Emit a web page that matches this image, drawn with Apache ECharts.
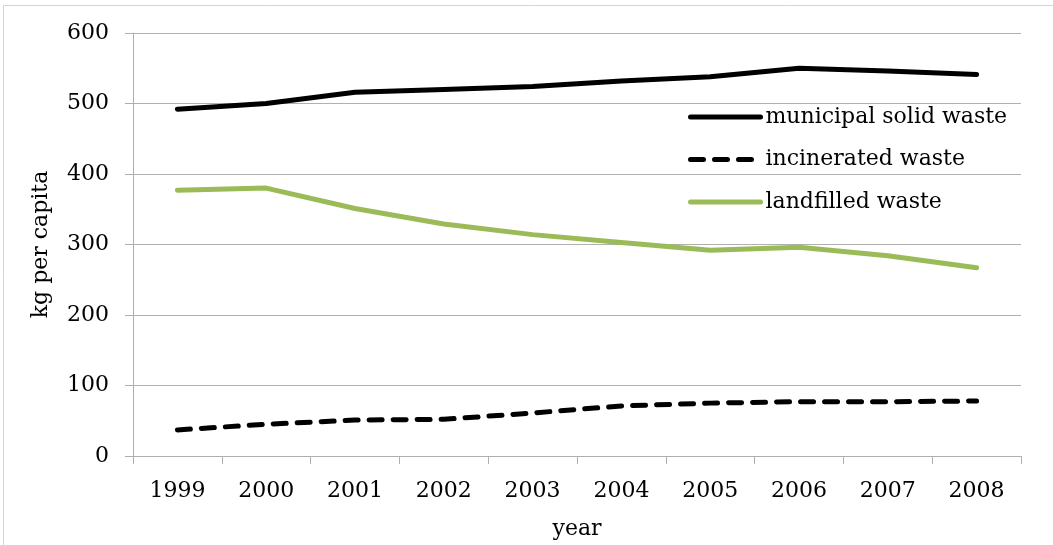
<!DOCTYPE html>
<html>
<head>
<meta charset="utf-8">
<script src="https://cdn.jsdelivr.net/npm/echarts@6/dist/echarts.min.js"></script>
<style>
  html, body { margin: 0; padding: 0; background: #fff; }
  #chart { width: 1053px; height: 545px; }
</style>
</head>
<body>
<div id="chart"></div>
<script>
// Waste per capita, 1999–2008 (kg per capita)
const years = ['1999', '2000', '2001', '2002', '2003', '2004', '2005', '2006', '2007', '2008'];
const municipalSolidWaste = [492, 500, 516, 520, 524, 532, 538, 550, 546, 541];
const incineratedWaste = [37, 45, 51, 52, 61, 71, 75, 77, 77, 78];
const landfilledWaste = [377, 380, 351, 329, 314, 303, 292, 296, 284, 267];

const FONT = 'DejaVu Serif';
const FONT_SIZE = 22;
const GRID_COLOR = '#b0b0b0';

const chart = echarts.init(document.getElementById('chart'), null, { renderer: 'canvas' });

chart.setOption({
  animation: false,
  backgroundColor: '#fff',
  textStyle: { fontFamily: FONT, color: '#000' },
  graphic: [
    // outer chart frame edges
    { type: 'line', shape: { x1: 3.5, y1: 5.5, x2: 1053, y2: 5.5 }, style: { stroke: '#d4d4d4', lineWidth: 1 } },
    { type: 'line', shape: { x1: 3.5, y1: 5.5, x2: 3.5, y2: 545 }, style: { stroke: '#d4d4d4', lineWidth: 1 } }
  ],
  grid: { left: 133, right: 32, top: 33, bottom: 89, containLabel: false },
  legend: {
    orient: 'vertical',
    left: 683,
    top: 101,
    itemWidth: 70,
    itemHeight: 14,
    itemGap: 20.5,
    itemStyle: { opacity: 0 },
    lineStyle: { width: 5, cap: 'round' },
    textStyle: { fontFamily: FONT, fontSize: FONT_SIZE, color: '#000', padding: [0, 0, 0, 0] },
    data: ['municipal solid waste', 'incinerated waste', 'landfilled waste']
  },
  xAxis: {
    type: 'category',
    data: years,
    boundaryGap: true,
    name: 'year',
    nameLocation: 'middle',
    nameGap: 62,
    nameTextStyle: { fontFamily: FONT, fontSize: FONT_SIZE, color: '#000' },
    axisLine: { lineStyle: { color: GRID_COLOR, width: 1 } },
    axisTick: { show: true, length: 8, alignWithLabel: false, lineStyle: { color: GRID_COLOR } },
    axisLabel: { fontFamily: FONT, fontSize: FONT_SIZE, color: '#000', margin: 24 },
    splitLine: { show: false }
  },
  yAxis: {
    type: 'value',
    min: 0,
    max: 600,
    interval: 100,
    name: 'kg per capita',
    nameLocation: 'middle',
    nameGap: 81,
    nameRotate: 90,
    nameTextStyle: { fontFamily: FONT, fontSize: FONT_SIZE, color: '#000' },
    axisLine: { show: true, lineStyle: { color: GRID_COLOR, width: 1 } },
    axisTick: { show: true, length: 8, lineStyle: { color: GRID_COLOR } },
    axisLabel: { fontFamily: FONT, fontSize: FONT_SIZE, color: '#000', margin: 24 },
    splitLine: { show: true, lineStyle: { color: GRID_COLOR, width: 1 } }
  },
  series: [
    {
      name: 'municipal solid waste',
      type: 'line',
      data: municipalSolidWaste,
      symbol: 'none',
      color: '#000',
      lineStyle: { color: '#000', width: 5, cap: 'round', join: 'round' }
    },
    {
      name: 'incinerated waste',
      type: 'line',
      data: incineratedWaste,
      symbol: 'none',
      color: '#000',
      lineStyle: { color: '#000', width: 5, type: [13, 11], cap: 'round', join: 'round' }
    },
    {
      name: 'landfilled waste',
      type: 'line',
      data: landfilledWaste,
      symbol: 'none',
      color: '#9bbb59',
      lineStyle: { color: '#9bbb59', width: 5, cap: 'round', join: 'round' }
    }
  ]
});
</script>
</body>
</html>
